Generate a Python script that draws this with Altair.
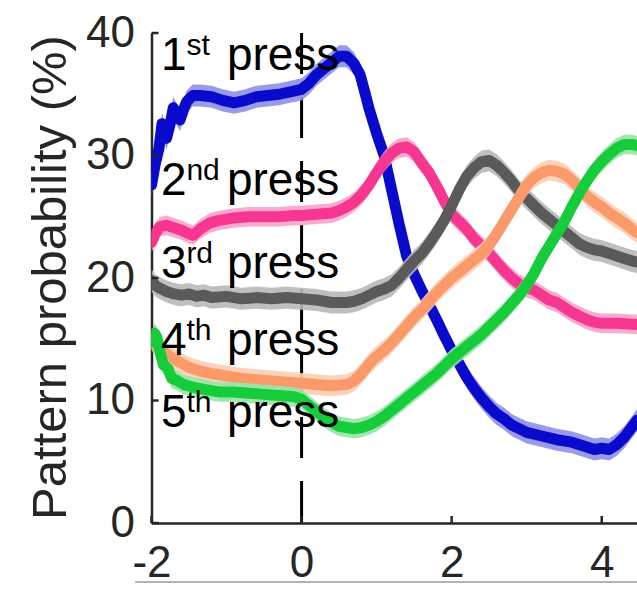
import altair as alt
import pandas as pd

# ---------------- data ----------------
series_names = ["1st", "2nd", "3rd", "4th", "5th"]
line_colors = ["#0A0ACC", "#F7368F", "#5A5A5A", "#FA9A6B", "#17CC3A"]
band_colors = ["#8F8FE8", "#F9A3CB", "#B8B8B8", "#FCCDB4", "#93E5A4"]
band_half = [0.9, 0.8, 0.9, 0.85, 0.8]

x1 = [-2.0, -1.95, -1.9, -1.86, -1.8, -1.75, -1.71, -1.66, -1.62, -1.57, -1.53, -1.45, -1.35, -1.2,
      -1.05, -0.9, -0.75, -0.6, -0.45, -0.3, -0.15, 0.0, 0.1, 0.2, 0.3, 0.4, 0.5, 0.6, 0.7, 0.78,
      0.85, 0.9, 1.0, 1.1, 1.2, 1.3, 1.4, 1.5, 1.6, 1.7, 1.8, 1.9, 2.0, 2.1, 2.2, 2.3, 2.4, 2.5,
      2.6, 2.7, 2.8, 2.9, 3.0, 3.2, 3.4, 3.6, 3.8, 3.9, 4.0, 4.1, 4.2, 4.3, 4.4, 4.47]
y1 = [27.6, 29.3, 30.6, 32.6, 31.4, 32.6, 33.9, 33.3, 32.9, 33.8, 34.4, 34.9, 34.9, 34.8,
      34.5, 34.3, 34.5, 34.8, 34.9, 35.0, 35.2, 35.4, 35.9, 36.6, 37.1, 37.6, 38.1, 38.1, 37.5, 36.6,
      35.0, 33.8, 31.8, 30.0, 27.2, 24.4, 21.8, 20.3, 19.0, 17.8, 16.6, 15.3, 14.1, 13.0, 11.9, 11.0, 10.2, 9.5,
      8.9, 8.5, 8.0, 7.7, 7.4, 7.1, 6.8, 6.6, 6.2, 6.0, 6.1, 6.0, 6.4, 7.0, 7.8, 8.4]

x2 = [-2.0, -1.95, -1.89, -1.8, -1.7, -1.6, -1.5, -1.44, -1.35, -1.22, -1.1, -0.9, -0.7, -0.5,
      -0.3, -0.1, 0.0, 0.2, 0.4, 0.5, 0.6, 0.7, 0.8, 0.9, 1.0, 1.1, 1.2, 1.3, 1.4, 1.5, 1.6, 1.7,
      1.8, 1.9, 2.0, 2.1, 2.2, 2.3, 2.4, 2.5, 2.6, 2.7, 2.8, 2.9, 3.0, 3.1, 3.2, 3.3, 3.4, 3.5,
      3.6, 3.7, 3.8, 3.9, 4.0, 4.2, 4.47]
y2 = [22.9, 23.6, 24.2, 24.3, 24.1, 23.9, 23.6, 23.5, 24.0, 24.5, 24.7, 24.9, 25.0, 25.0,
      25.0, 25.1, 25.1, 25.2, 25.3, 25.5, 25.8, 26.2, 26.8, 27.6, 28.6, 29.5, 30.2, 30.6, 30.7, 30.3, 29.4, 28.6,
      27.5, 26.3, 25.2, 24.6, 24.0, 23.2, 22.6, 22.0, 21.3, 20.6, 20.0, 19.5, 19.2, 19.0, 18.6, 18.2, 18.0, 17.6,
      17.2, 16.9, 16.6, 16.4, 16.3, 16.3, 16.2]

x3 = [-2.0, -1.95, -1.9, -1.8, -1.7, -1.6, -1.5, -1.4, -1.3, -1.2, -1.0, -0.8, -0.6, -0.4, -0.2,
      0.0, 0.2, 0.4, 0.5, 0.6, 0.7, 0.8, 0.9, 1.0, 1.1, 1.2, 1.3, 1.4, 1.5, 1.6, 1.7, 1.8, 1.9,
      2.0, 2.1, 2.2, 2.3, 2.4, 2.5, 2.6, 2.7, 2.8, 2.9, 3.0, 3.1, 3.2, 3.3, 3.4, 3.5, 3.6, 3.7,
      3.8, 3.9, 4.0, 4.1, 4.2, 4.3, 4.4, 4.47]
y3 = [19.8, 19.4, 19.2, 18.9, 18.7, 18.6, 18.7, 18.5, 18.6, 18.4, 18.5, 18.3, 18.4, 18.3, 18.4,
      18.3, 18.2, 18.0, 18.0, 18.0, 18.1, 18.3, 18.6, 18.9, 19.1, 19.4, 20.0, 20.7, 21.4, 22.0, 22.8, 23.7, 24.7,
      25.9, 27.2, 28.3, 29.0, 29.5, 29.6, 29.2, 28.6, 27.9, 27.1, 26.5, 25.9, 25.3, 24.8, 24.3, 23.8, 23.3, 22.8,
      22.5, 22.3, 22.2, 22.0, 21.8, 21.6, 21.4, 21.3]

x4 = [-2.0, -1.95, -1.9, -1.84, -1.75, -1.62, -1.5, -1.35, -1.2, -1.0, -0.8, -0.6, -0.4, -0.2,
      0.0, 0.2, 0.4, 0.6, 0.7, 0.8, 0.9, 1.0, 1.1, 1.2, 1.3, 1.4, 1.5, 1.6, 1.7, 1.8, 1.9, 2.0,
      2.1, 2.2, 2.3, 2.4, 2.5, 2.6, 2.7, 2.8, 2.9, 3.0, 3.1, 3.2, 3.3, 3.4, 3.5, 3.6, 3.7, 3.8,
      3.9, 4.0, 4.1, 4.2, 4.3, 4.4, 4.47]
y4 = [15.0, 14.5, 14.3, 14.0, 13.6, 13.1, 12.7, 12.4, 12.2, 12.0, 11.8, 11.7, 11.6, 11.5,
      11.4, 11.3, 11.2, 11.3, 11.6, 12.2, 13.0, 13.6, 14.1, 14.7, 15.4, 16.1, 16.8, 17.4, 18.1, 18.8, 19.4, 20.0,
      20.5, 21.0, 21.5, 22.0, 22.7, 23.6, 24.6, 25.6, 26.6, 27.6, 28.2, 28.6, 28.8, 28.7, 28.5, 28.0, 27.4, 26.7,
      26.2, 25.8, 25.3, 24.9, 24.5, 24.0, 23.7]

x5 = [-2.0, -1.96, -1.93, -1.88, -1.84, -1.78, -1.73, -1.65, -1.57, -1.45, -1.3, -1.1, -0.9, -0.7,
      -0.5, -0.3, -0.1, 0.0, 0.1, 0.2, 0.3, 0.4, 0.5, 0.6, 0.7, 0.8, 0.9, 1.0, 1.1, 1.2, 1.3, 1.4,
      1.5, 1.6, 1.7, 1.8, 1.9, 2.0, 2.1, 2.2, 2.3, 2.4, 2.5, 2.6, 2.7, 2.8, 2.9, 3.0, 3.1, 3.2,
      3.3, 3.4, 3.5, 3.6, 3.7, 3.8, 3.9, 4.0, 4.1, 4.2, 4.3, 4.4, 4.47]
y5 = [14.8, 15.5, 15.2, 13.8, 12.9, 12.6, 11.8, 11.6, 11.3, 11.1, 10.9, 10.7, 10.7, 10.6,
      10.5, 10.4, 10.3, 10.1, 9.6, 9.1, 8.6, 8.2, 7.9, 7.8, 7.7, 7.8, 8.0, 8.3, 8.7, 9.2, 9.7, 10.2,
      10.7, 11.2, 11.7, 12.2, 12.8, 13.4, 13.9, 14.4, 14.9, 15.4, 16.0, 16.6, 17.2, 17.9, 18.6, 19.4, 20.4, 21.6,
      22.6, 23.6, 24.6, 25.8, 26.9, 27.9, 28.8, 29.5, 30.1, 30.6, 30.9, 30.9, 30.8]

label_nums = ["1", "2", "3", "4", "5"]
label_sups = ["st", "nd", "rd", "th", "th"]
label_x = [-1.875, -1.875, -1.875, -1.875, -1.875]
label_y = [36.98, 26.78, 20.0, 13.75, 7.85]

x_ticks = [-2, 0, 2, 4]
y_ticks = [0, 10, 20, 30, 40]

# ---------------- styling ----------------
FONT = "Liberation Sans"
AX = "#262626"
W, H = 485.5, 490

xs = alt.Scale(domain=[-2, 4.47], nice=False, zero=False)
ys = alt.Scale(domain=[0, 40], nice=False, zero=False)

X_AXIS = alt.Axis(values=x_ticks, title=None, ticks=False, grid=False,
                  labelFont=FONT, labelFontSize=44, labelColor=AX, labelPadding=18,
                  labelExpr="'' + datum.value",
                  domainColor=AX, domainWidth=2.5, labelFlush=False)
Y_AXIS = alt.Axis(values=y_ticks, title="Pattern probability (%)", ticks=False, grid=False,
                  labelFont=FONT, labelFontSize=44, labelColor=AX, labelPadding=17,
                  domainColor=AX, domainWidth=2.5, labelFlush=False,
                  titleFont=FONT, titleFontSize=49, titleColor=AX, titleFontWeight="normal",
                  titleAngle=270, titleBaseline="alphabetic", titleAlign="center",
                  titleX=-86.5, titleY=244)

xs_list = [x1, x2, x3, x4, x5]
ys_list = [y1, y2, y3, y4, y5]

layers = []

# dashed vertical line at 0
layers.append(
    alt.Chart(pd.DataFrame({"x0": [0]})).mark_rule(
        color="#000000", strokeWidth=3, strokeDash=[41, 23]
    ).encode(
        x=alt.X("x0:Q", scale=xs, axis=X_AXIS),
        y=alt.value(0), y2=alt.value(H)
    )
)

for i, name in enumerate(series_names):
    d = pd.DataFrame({"x": xs_list[i], "y": ys_list[i]})
    d["lo"] = d["y"] - band_half[i]
    d["hi"] = d["y"] + band_half[i]
    layers.append(
        alt.Chart(d).mark_area(color=band_colors[i], opacity=0.9, clip=True).encode(
            x=alt.X("x:Q", scale=xs, axis=X_AXIS),
            y=alt.Y("lo:Q", scale=ys, axis=Y_AXIS),
            y2="hi:Q",
        )
    )
    layers.append(
        alt.Chart(d).mark_line(color=line_colors[i], strokeWidth=11, strokeJoin="round",
                               strokeCap="round", clip=True).encode(
            x=alt.X("x:Q", scale=xs, axis=X_AXIS),
            y=alt.Y("y:Q", scale=ys, axis=Y_AXIS),
        )
    )

# inward ticks
layers.append(
    alt.Chart(pd.DataFrame({"v": y_ticks})).mark_rule(color=AX, strokeWidth=2.5).encode(
        y=alt.Y("v:Q", scale=ys, axis=Y_AXIS), x=alt.value(0), x2=alt.value(7)
    )
)
layers.append(
    alt.Chart(pd.DataFrame({"v": x_ticks})).mark_rule(color=AX, strokeWidth=2.5).encode(
        x=alt.X("v:Q", scale=xs, axis=X_AXIS), y=alt.value(H), y2=alt.value(H - 7)
    )
)

# bottom thin gray line
layers.append(
    alt.Chart(pd.DataFrame({"k": [1]})).mark_rule(color="#9A9A9A", strokeWidth=1.5).encode(
        x=alt.value(-16.5), x2=alt.value(W), y=alt.value(549)
    )
)

# labels
lab = pd.DataFrame({"num": label_nums, "sup": label_sups, "lx": label_x, "ly": label_y,
                    "press": ["press"] * 5})
base = alt.Chart(lab).encode(
    x=alt.X("lx:Q", scale=xs, axis=X_AXIS),
    y=alt.Y("ly:Q", scale=ys, axis=Y_AXIS),
)
layers.append(base.mark_text(font=FONT, fontSize=46, color="black", align="left",
                             baseline="alphabetic").encode(text="num:N"))
layers.append(base.mark_text(font=FONT, fontSize=30, color="black", align="left",
                             baseline="alphabetic", dx=25.5, dy=-15).encode(text="sup:N"))
layers.append(base.mark_text(font=FONT, fontSize=46, color="black", align="left",
                             baseline="alphabetic", dx=66).encode(text="press:N"))

chart = alt.layer(*layers).properties(
    width=W, height=H,
    autosize=alt.AutoSizeParams(type="none"),
    padding={"left": 151.5, "top": 33, "right": 0, "bottom": 81},
    background="white",
).configure_view(stroke=None)

chart.save("out.html", embed_options={"renderer": "svg", "actions": False})
